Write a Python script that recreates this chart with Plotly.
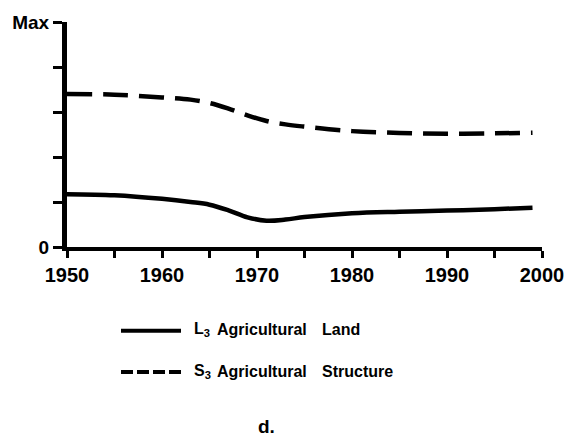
import plotly.graph_objects as go

# Years sampled along both curves
years = [1950, 1955, 1960, 1963, 1965, 1967, 1969, 1971, 1973, 1975, 1980, 1985, 1990, 1995, 1999]

# Levels as a fraction of the maximum (0 .. Max)
land_l3 = [0.235, 0.230, 0.214, 0.200, 0.188, 0.163, 0.132, 0.117, 0.122, 0.133, 0.150, 0.157, 0.162, 0.168, 0.175]
structure_s3 = [0.680, 0.677, 0.665, 0.655, 0.640, 0.615, 0.585, 0.560, 0.545, 0.535, 0.515, 0.507, 0.503, 0.505, 0.508]

x_tick_vals = [1950, 1960, 1970, 1980, 1990, 2000]
x_tick_text = ["1950", "1960", "1970", "1980", "1990", "2000"]
y_tick_vals = [0, 1.0]
y_tick_text = ["0", "Max"]

FONT = "Liberation Sans, Arial, sans-serif"
W, H = 577, 447
ML, MR, MT, MB = 67, 35, 13, 200
PW, PH = W - ML - MR, H - MT - MB


def px(x):
    return (x - ML) / PW


def py(y):
    return (H - MB - y) / PH


fig = go.Figure()
fig.add_trace(go.Scatter(x=years, y=land_l3, mode="lines", line_shape="spline",
                         line=dict(color="black", width=4.5), showlegend=False))
fig.add_trace(go.Scatter(x=years, y=structure_s3, mode="lines", line_shape="spline",
                         line=dict(color="black", width=4.5, dash="25px,11px"), showlegend=False))

# Hand-made key below the axes
shapes = [
    dict(type="line", xref="paper", yref="paper", x0=px(121), x1=px(181), y0=py(334), y1=py(334),
         line=dict(color="black", width=4)),
    dict(type="line", xref="paper", yref="paper", x0=px(121), x1=px(181), y0=py(377), y1=py(377),
         line=dict(color="black", width=4, dash="12px,4px")),
]

annotations = []
rows = [(333, ["L<sub>3</sub>", "Agricultural", "Land"]),
        (376, ["S<sub>3</sub>", "Agricultural", "Structure"])]
for ypos, words in rows:
    for xpos, w in zip([192, 215, 320], words):
        annotations.append(dict(xref="paper", yref="paper", x=px(xpos), y=py(ypos),
                                xanchor="left", yanchor="middle", showarrow=False, text=w,
                                font=dict(family=FONT, size=16, color="black", weight="bold")))
annotations.append(dict(xref="paper", yref="paper", x=px(266), y=py(434),
                        xanchor="center", yanchor="middle", showarrow=False, text="d.",
                        font=dict(family=FONT, size=19, color="black", weight="bold")))

tick_style = dict(ticks="outside", tickwidth=2.5, tickcolor="black")

fig.update_layout(
    width=W, height=H,
    margin=dict(l=ML, r=MR, t=MT, b=MB, pad=0),
    paper_bgcolor="white", plot_bgcolor="white",
    font=dict(family=FONT, color="black", weight="bold"),
    shapes=shapes, annotations=annotations,
    xaxis=dict(range=[1950, 2000], tickvals=x_tick_vals, ticktext=x_tick_text,
               showgrid=False, zeroline=False, showline=True, linecolor="black", linewidth=4,
               ticklen=7, **tick_style,
               minor=dict(dtick=5, tick0=1950, ticklen=7, showgrid=False, **tick_style),
               tickfont=dict(family=FONT, size=20, color="black", weight="bold")),
    yaxis=dict(range=[0, 1], tickvals=y_tick_vals, ticktext=y_tick_text,
               showgrid=False, zeroline=False, showline=True, linecolor="black", linewidth=5,
               ticklen=9, **tick_style,
               minor=dict(dtick=0.2, tick0=0, ticklen=9, showgrid=False, **tick_style),
               tickfont=dict(family=FONT, size=19, color="black", weight="bold")),
)

fig.write_html("out.html")
